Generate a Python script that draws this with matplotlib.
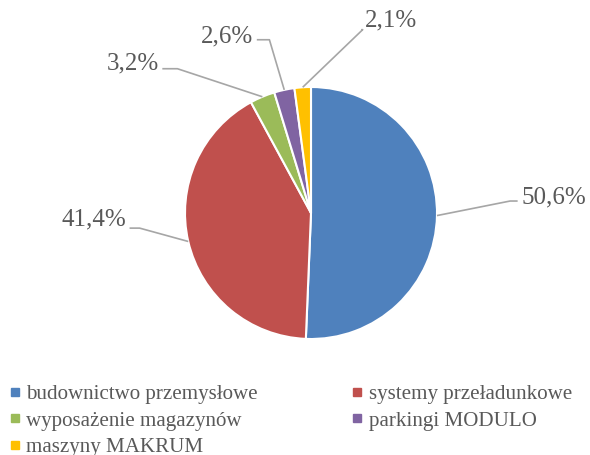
import matplotlib.pyplot as plt
from matplotlib.lines import Line2D
import numpy as np

# Data
categories = ["budownictwo przemysłowe", "systemy przeładunkowe",
              "wyposażenie magazynów", "parkingi MODULO", "maszyny MAKRUM"]
shares = [50.6, 41.4, 3.2, 2.6, 2.1]
share_labels = ["50,6%", "41,4%", "3,2%", "2,6%", "2,1%"]
colors = ["#4F81BD", "#C0504D", "#9BBB59", "#8064A2", "#FFC000"]

# label layout: (elbow x, elbow y, text x, text y, alignment)
label_pos = [
    (1.58, 0.095, 1.67, 0.12, "left"),
    (-1.36, -0.12, -1.47, -0.05, "right"),
    (-1.06, 1.145, -1.21, 1.19, "right"),
    (-0.33, 1.375, -0.46, 1.40, "right"),
    (0.41, 1.455, 0.43, 1.53, "left"),
]

plt.rcParams["font.family"] = ["Liberation Serif", "DejaVu Serif"]

fig = plt.figure(figsize=(5.9, 4.55), dpi=100)
ax = fig.add_axes([0, 85 / 455, 1, 370 / 455])

wedges, _ = ax.pie(shares, colors=colors, startangle=90, counterclock=False,
                   radius=1.0, wedgeprops=dict(edgecolor="white", linewidth=1.5))
ax.set_xlim(-311 / 126, 279 / 126)
ax.set_ylim(-157 / 126, 213 / 126)
ax.set_aspect("equal")
ax.axis("off")

# leader lines + labels
for w, lab, (ex, ey, tx, ty, ha) in zip(wedges, share_labels, label_pos):
    mid = np.deg2rad((w.theta1 + w.theta2) / 2)
    px, py = np.cos(mid), np.sin(mid)
    hx = tx - 0.03 if ha == "left" else tx + 0.03
    ax.plot([px, ex, hx], [py, ey, ey], color="#A6A6A6", lw=1.2,
            solid_capstyle="butt", zorder=1)
    ax.text(tx, ty, lab, ha=ha, va="center", fontsize=18, color="#595959")

handles = [Line2D([], [], marker="s", linestyle="none", markersize=5.5,
                  markerfacecolor=c, markeredgecolor=c) for c in colors]
# row-wise order like the original legend
order = [0, 2, 4, 1, 3]
fig.legend([handles[i] for i in order], [categories[i] for i in order],
           ncol=2, loc="upper left",
           bbox_to_anchor=(-0.016, 0.196), frameon=False, fontsize=15.1,
           labelcolor="#595959", handlelength=0.5, handletextpad=0.3,
           columnspacing=4.5, labelspacing=0.32)

fig.savefig("out.png", dpi=100)
